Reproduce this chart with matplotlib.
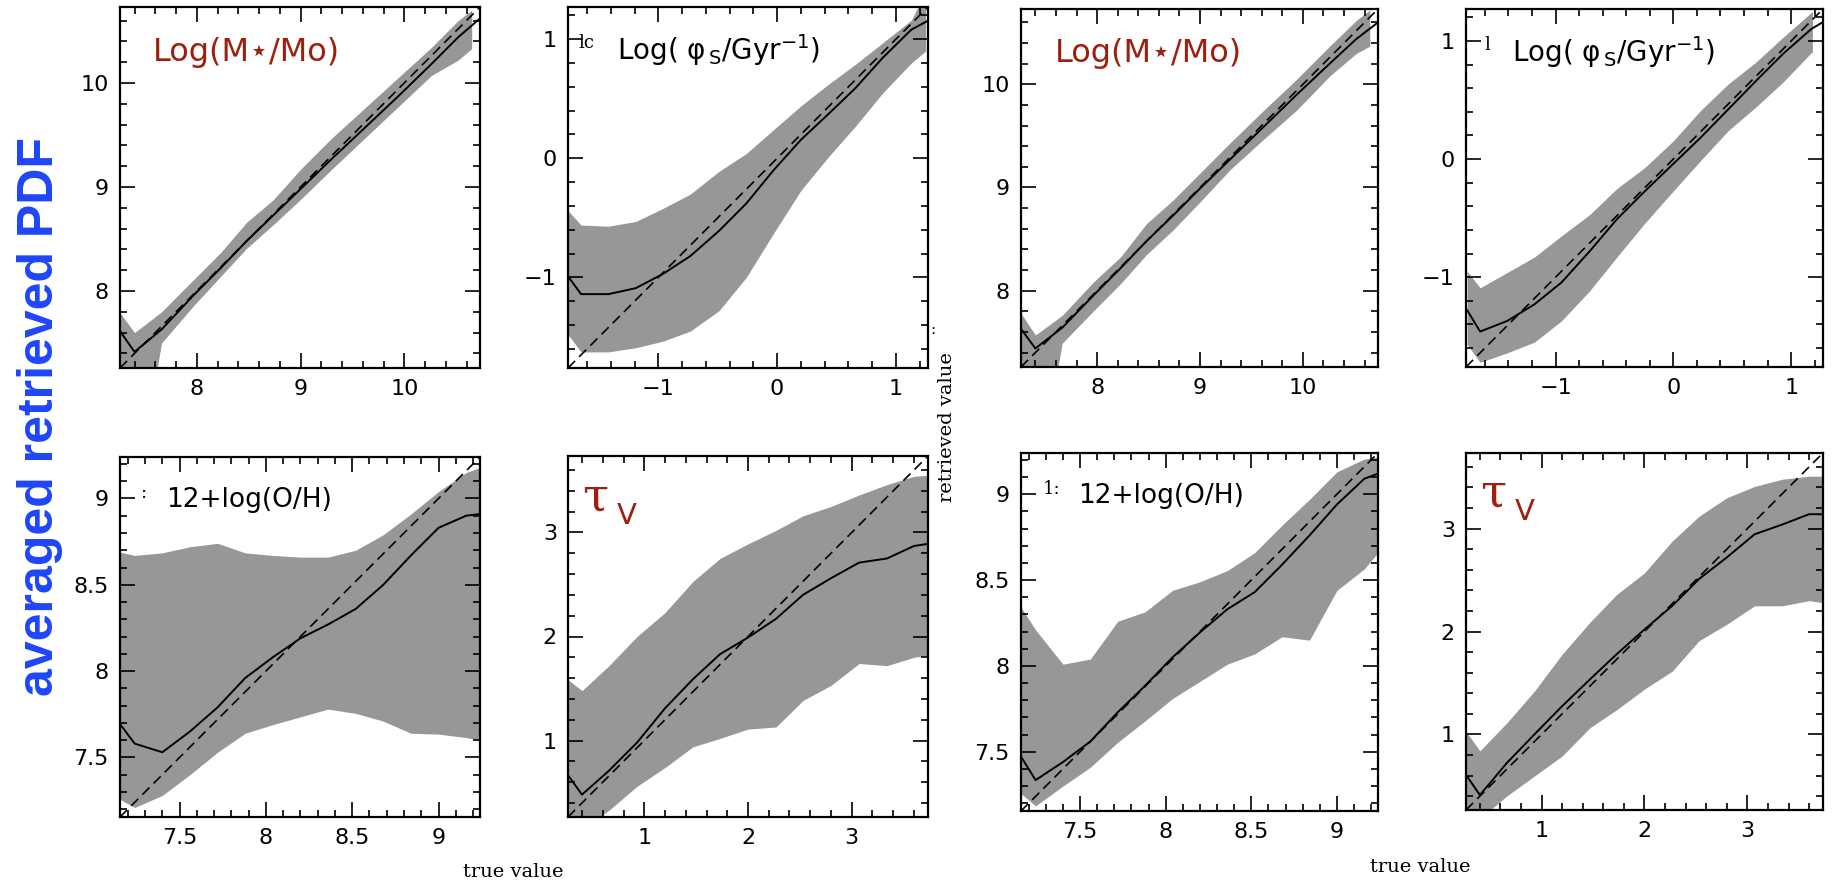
import matplotlib
matplotlib.use("Agg")
import matplotlib.pyplot as plt
from matplotlib.ticker import MultipleLocator, FuncFormatter

# ---- stellar mass panels ----
mass_x = [7.26, 7.40, 7.66, 7.97, 8.23, 8.48, 8.74, 9.00, 9.29, 9.61, 9.94, 10.26, 10.52, 10.65]
mass_line_x = [7.26, 7.40, 7.66, 7.97, 8.23, 8.48, 8.74, 9.00, 9.29, 9.61, 9.94, 10.26, 10.52, 10.73]
mass1_med = [7.615, 7.415, 7.63, 7.96, 8.22, 8.48, 8.73, 8.98, 9.26, 9.56, 9.87, 10.18, 10.44, 10.62]
mass1_hi = [7.79, 7.60, 7.80, 8.11, 8.37, 8.66, 8.88, 9.17, 9.46, 9.75, 10.05, 10.34, 10.60, 10.70]
mass1_lo = [6.50, 6.00, 7.50, 7.86, 8.14, 8.41, 8.64, 8.88, 9.16, 9.46, 9.77, 10.07, 10.22, 10.33]
mass2_med = [7.63, 7.44, 7.64, 7.96, 8.22, 8.48, 8.73, 8.99, 9.27, 9.58, 9.90, 10.20, 10.44, 10.60]
mass2_hi = [7.78, 7.57, 7.76, 8.09, 8.33, 8.65, 8.88, 9.14, 9.43, 9.74, 10.05, 10.37, 10.62, 10.72]
mass2_lo = [6.50, 6.00, 7.49, 7.81, 8.07, 8.35, 8.59, 8.86, 9.17, 9.46, 9.75, 10.08, 10.30, 10.37]

# ---- specific SFR panels ----
sfr1_x = [-1.76, -1.65, -1.42, -1.19, -0.96, -0.73, -0.49, -0.26, -0.03, 0.20, 0.43, 0.66, 0.89, 1.13, 1.25]
sfr1_line_x = [-1.76, -1.65, -1.42, -1.19, -0.96, -0.73, -0.49, -0.26, -0.03, 0.20, 0.43, 0.66, 0.89, 1.13, 1.27]
sfr1_med = [-0.99, -1.14, -1.14, -1.09, -0.97, -0.82, -0.61, -0.38, -0.10, 0.155, 0.37, 0.59, 0.845, 1.08, 1.155]
sfr1_hi = [-0.44, -0.56, -0.57, -0.53, -0.42, -0.30, -0.11, 0.04, 0.24, 0.44, 0.62, 0.79, 0.97, 1.16, 1.40]
sfr1_lo = [-1.48, -1.625, -1.625, -1.59, -1.535, -1.45, -1.28, -1.00, -0.63, -0.27, 0.01, 0.27, 0.55, 0.80, 0.90]
sfr2_x = [-1.75, -1.64, -1.41, -1.18, -0.95, -0.71, -0.48, -0.24, 0.0, 0.23, 0.465, 0.70, 0.93, 1.17, 1.18]
sfr2_line_x = [-1.75, -1.64, -1.41, -1.18, -0.95, -0.71, -0.48, -0.24, 0.0, 0.23, 0.465, 0.70, 0.93, 1.17, 1.27]
sfr2_med = [-1.28, -1.46, -1.37, -1.23, -1.045, -0.78, -0.51, -0.27, -0.04, 0.18, 0.42, 0.66, 0.89, 1.10, 1.16]
sfr2_hi = [-0.95, -1.09, -0.96, -0.83, -0.65, -0.47, -0.25, -0.07, 0.155, 0.41, 0.635, 0.82, 1.03, 1.24, 1.25]
sfr2_lo = [-1.57, -1.72, -1.64, -1.55, -1.37, -1.115, -0.83, -0.54, -0.27, -0.014, 0.24, 0.44, 0.65, 0.90, 0.90]

# ---- metallicity panels ----
oh_x = [7.15, 7.24, 7.40, 7.56, 7.72, 7.88, 8.04, 8.20, 8.36, 8.52, 8.68, 8.84, 9.00, 9.16, 9.24]
oh1_med = [7.70, 7.58, 7.53, 7.65, 7.79, 7.96, 8.08, 8.19, 8.27, 8.36, 8.50, 8.67, 8.83, 8.90, 8.91]
oh1_hi = [8.69, 8.67, 8.685, 8.72, 8.74, 8.685, 8.67, 8.66, 8.66, 8.70, 8.79, 8.91, 9.04, 9.15, 9.18]
oh1_lo = [7.26, 7.21, 7.28, 7.40, 7.53, 7.64, 7.69, 7.735, 7.78, 7.755, 7.71, 7.64, 7.635, 7.615, 7.60]
oh2_med = [7.48, 7.335, 7.44, 7.56, 7.73, 7.885, 8.05, 8.195, 8.33, 8.43, 8.59, 8.76, 8.94, 9.09, 9.12]
oh2_hi = [8.35, 8.21, 8.01, 8.04, 8.26, 8.315, 8.44, 8.49, 8.555, 8.66, 8.82, 8.97, 9.13, 9.205, 9.215]
oh2_lo = [7.26, 7.185, 7.30, 7.41, 7.555, 7.68, 7.81, 7.91, 8.01, 8.07, 8.17, 8.15, 8.44, 8.565, 8.66]

# ---- dust optical depth panels ----
tau_x = [0.27, 0.40, 0.66, 0.93, 1.20, 1.47, 1.73, 2.00, 2.27, 2.53, 2.80, 3.07, 3.34, 3.60, 3.73]
tau1_med = [0.66, 0.48, 0.71, 0.98, 1.31, 1.59, 1.83, 1.99, 2.17, 2.40, 2.56, 2.71, 2.75, 2.87, 2.89]
tau1_hi = [1.58, 1.48, 1.72, 2.00, 2.23, 2.53, 2.75, 2.89, 3.02, 3.16, 3.25, 3.36, 3.46, 3.54, 3.55]
tau1_lo = [0.05, 0.15, 0.33, 0.56, 0.74, 0.94, 1.02, 1.11, 1.13, 1.385, 1.53, 1.74, 1.72, 1.80, 1.82]
tau2_med = [0.60, 0.41, 0.72, 1.00, 1.275, 1.535, 1.78, 2.02, 2.25, 2.51, 2.72, 2.945, 3.04, 3.14, 3.14]
tau2_hi = [1.02, 0.84, 1.11, 1.42, 1.78, 2.09, 2.36, 2.57, 2.88, 3.12, 3.30, 3.41, 3.48, 3.51, 3.51]
tau2_lo = [0.05, 0.18, 0.40, 0.595, 0.79, 1.065, 1.24, 1.44, 1.615, 1.91, 2.07, 2.25, 2.25, 2.30, 2.28]

mass_lim = (7.26, 10.73)
sfr_lim = (-1.76, 1.27)
oh_lim = (7.155, 9.24)
tau_lim = (0.265, 3.735)

BAND = "#979797"
RED = "#a01e0c"
W, H = 1833, 882

plt.rcParams["font.family"] = "DejaVu Sans"
plt.rcParams["mathtext.fontset"] = "dejavusans"

fig = plt.figure(figsize=(W / 100, H / 100), dpi=100)


def box(l, t, r, b):
    return [l / W, 1 - b / H, (r - l) / W, (b - t) / H]


def fpos(px, py):
    return px / W, 1 - py / H


short = FuncFormatter(lambda v, p: f"{v:g}".replace("-", "\u2212"))


def panel(rect, lims, major, minor, bx, lo, hi, lx, med):
    ax = fig.add_axes(rect)
    ax.fill_between(bx, lo, hi, color=BAND, lw=0, zorder=1)
    ax.plot(lims, lims, color="k", lw=1.2, ls=(0, (6, 3.5)), zorder=2)
    ax.plot(lx, med, color="k", lw=1.4, zorder=3)
    ax.set_xlim(lims)
    ax.set_ylim(lims)
    for a in (ax.xaxis, ax.yaxis):
        a.set_major_locator(MultipleLocator(major))
        a.set_minor_locator(MultipleLocator(minor))
        a.set_major_formatter(short)
    ax.tick_params(which="both", direction="in", top=True, right=True,
                   width=1.2, labelsize=16, pad=8)
    ax.tick_params(which="major", length=11)
    ax.tick_params(which="minor", length=5)
    for s in ax.spines.values():
        s.set_linewidth(1.6)
    return ax


ax1 = panel(box(120, 7, 480, 368), mass_lim, 1, 0.2, mass_x, mass1_lo, mass1_hi, mass_line_x, mass1_med)
ax2 = panel(box(568, 7, 928, 368), sfr_lim, 1, 0.2, sfr1_x, sfr1_lo, sfr1_hi, sfr1_line_x, sfr1_med)
ax3 = panel(box(120, 457, 480, 817), oh_lim, 0.5, 0.1, oh_x, oh1_lo, oh1_hi, oh_x, oh1_med)
ax4 = panel(box(568, 456, 928, 817), tau_lim, 1, 0.2, tau_x, tau1_lo, tau1_hi, tau_x, tau1_med)
ax5 = panel(box(1021, 9, 1378, 367), mass_lim, 1, 0.2, mass_x, mass2_lo, mass2_hi, mass_line_x, mass2_med)
ax6 = panel(box(1466, 9, 1823, 367), sfr_lim, 1, 0.2, sfr2_x, sfr2_lo, sfr2_hi, sfr2_line_x, sfr2_med)
ax7 = panel(box(1021, 453, 1378, 811), oh_lim, 0.5, 0.1, oh_x, oh2_lo, oh2_hi, oh_x, oh2_med)
ax8 = panel(box(1466, 453, 1823, 810), tau_lim, 1, 0.2, tau_x, tau2_lo, tau2_hi, tau_x, tau2_med)

mass_lbl = "Log(M\u22c6/Mo)"
sfr_lbl = r"Log( φ$_{\,\mathregular{S}}$/Gyr$^{\mathregular{-1}}$)"
oh_lbl = "12+log(O/H)"

for ax, x in ((ax1, 0.092), (ax5, 0.095)):
    ax.text(x, 0.875, mass_lbl, transform=ax.transAxes, color=RED,
            fontsize=23, va="center", ha="left")
for ax, x, frag, fx in ((ax2, 0.136, "lc", 0.03), (ax6, 0.13, "l", 0.053)):
    ax.text(x, 0.88, sfr_lbl, transform=ax.transAxes, color="k",
            fontsize=20, va="center", ha="left")
    ax.text(fx, 0.9, frag, transform=ax.transAxes, family="DejaVu Serif",
            fontsize=13, va="center", ha="left")
for ax, x, frag, fx in ((ax3, 0.128, ":", 0.055), (ax7, 0.16, "1:", 0.062)):
    ax.text(x, 0.88, oh_lbl, transform=ax.transAxes, color="k",
            fontsize=19, va="center", ha="left")
    ax.text(fx, 0.9, frag, transform=ax.transAxes, family="DejaVu Serif",
            fontsize=13, va="center", ha="left")
for ax in (ax4, ax8):
    ax.text(0.04, 0.885, "\u03c4", transform=ax.transAxes, color=RED,
            family="DejaVu Serif", fontsize=34, va="center", ha="left")
    ax.text(0.136, 0.835, "V", transform=ax.transAxes, color=RED,
            fontsize=21, va="center", ha="left")

fig.text(*fpos(40, 416), "averaged retrieved PDF", color="#1f45fa",
         family="Liberation Sans", weight="bold", fontsize=36,
         rotation=90, ha="center", va="center")
fig.text(*fpos(947, 427), "retrieved value", family="DejaVu Serif",
         fontsize=14, rotation=90, ha="center", va="center")
fig.text(*fpos(513, 872), "true value", family="DejaVu Serif",
         fontsize=14, ha="center", va="center")
fig.text(*fpos(1420, 867), "true value", family="DejaVu Serif",
         fontsize=14, ha="center", va="center")
fig.text(*fpos(933, 330), ":", family="DejaVu Serif", fontsize=11,
         ha="center", va="center")

fig.savefig("out.png", dpi=100, facecolor="white")
